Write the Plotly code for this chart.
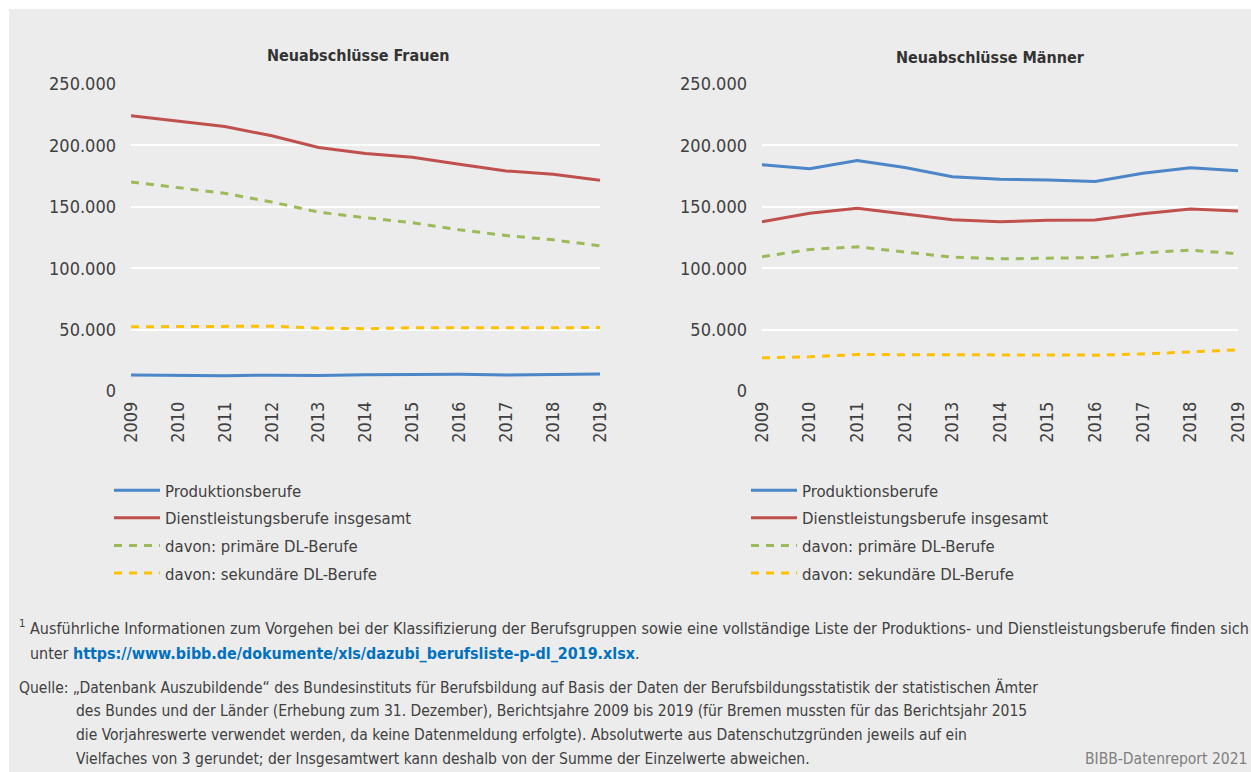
import plotly.graph_objects as go

W, H = 1251, 772
FONT = "DejaVu Sans Condensed, Liberation Sans Narrow, sans-serif"
TXT = "#404040"

# Daten
years = [2009, 2010, 2011, 2012, 2013, 2014, 2015, 2016, 2017, 2018, 2019]
series_names = ["Produktionsberufe", "Dienstleistungsberufe insgesamt",
                "davon: primäre DL-Berufe", "davon: sekundäre DL-Berufe"]

frauen_produktion = [13100, 12500, 12500, 12900, 12600, 13200, 13300, 13600, 13000, 13500, 13800]
frauen_dl_gesamt = [224100, 220000, 215400, 207800, 198300, 193400, 190400, 184600, 179200, 176500, 171600]
frauen_dl_primaer = [170200, 165600, 161000, 153900, 145700, 141100, 137000, 131300, 126600, 123100, 118200]
frauen_dl_sekundaer = [52300, 52600, 52800, 52800, 51200, 50700, 51500, 51500, 50900, 51500, 51700]

maenner_produktion = [184200, 180900, 187700, 182000, 174400, 172500, 171900, 170600, 177400, 181700, 179300]
maenner_dl_gesamt = [137900, 144700, 148800, 144100, 139500, 137900, 139000, 139200, 144400, 148200, 146600]
maenner_dl_primaer = [109300, 115300, 117400, 113100, 109000, 107600, 108400, 108700, 112500, 114700, 111700]
maenner_dl_sekundaer = [27000, 27800, 29700, 29700, 29200, 29200, 29200, 29200, 30200, 31900, 33500]

colors = ["#4a86c8", "#c0504d", "#9bbb59", "#ffc000"]
dashes = ["solid", "solid", "8px,7px", "8px,7px"]


# Pixel -> paper-Koordinaten (Ränder sind 0)
def px(x):
    return x / W


def py(y):
    return 1 - y / H


fig = go.Figure()

# linkes Diagramm: Frauen
for i, (name, vals) in enumerate(zip(series_names,
                                     [frauen_produktion, frauen_dl_gesamt, frauen_dl_primaer, frauen_dl_sekundaer])):
    fig.add_trace(go.Scatter(x=years, y=vals, name=name, mode="lines",
                             line=dict(color=colors[i], width=3, dash=dashes[i]),
                             legendgroup=f"f{i}", xaxis="x", yaxis="y", legend="legend"))

# rechtes Diagramm: Männer
for i, (name, vals) in enumerate(zip(series_names,
                                     [maenner_produktion, maenner_dl_gesamt, maenner_dl_primaer, maenner_dl_sekundaer])):
    fig.add_trace(go.Scatter(x=years, y=vals, name=name, mode="lines",
                             line=dict(color=colors[i], width=3, dash=dashes[i]),
                             legendgroup=f"m{i}", xaxis="x2", yaxis="y2", legend="legend2"))

xaxis_style = dict(range=[2009, 2019], tickvals=years, tickangle=-90, showgrid=False,
                   zeroline=False, showline=False, ticks="", ticklabelstandoff=6, automargin=False,
                   tickfont=dict(family=FONT, size=18, color=TXT))
yaxis_style = dict(range=[0, 250000], dtick=50000, tickformat=",d", showgrid=True,
                   gridcolor="white", gridwidth=1.5, zeroline=False, showline=False,
                   ticks="", ticklabelstandoff=14, automargin=False,
                   tickfont=dict(family=FONT, size=18, color=TXT))

legend_style = dict(bgcolor="rgba(0,0,0,0)", xanchor="left", yanchor="top",
                    font=dict(family=FONT, size=16.6, color=TXT), itemwidth=46,
                    tracegroupgap=3)

fig.update_layout(
    width=W, height=H,
    margin=dict(l=0, r=0, t=0, b=0),
    paper_bgcolor="white",
    plot_bgcolor="#d9d9d9",
    separators=",.",
    font=dict(family=FONT, color=TXT),
    xaxis=dict(domain=[px(131), px(600)], anchor="y", **xaxis_style),
    yaxis=dict(domain=[py(391), py(84)], anchor="x", **yaxis_style),
    xaxis2=dict(domain=[px(762), px(1238)], anchor="y2", **xaxis_style),
    yaxis2=dict(domain=[py(391), py(84)], anchor="x2", **yaxis_style),
    legend=dict(x=px(109), y=py(473), **legend_style),
    legend2=dict(x=px(746), y=py(473), **legend_style),
    showlegend=True,
)

# grauer Hintergrund
fig.add_shape(type="rect", xref="paper", yref="paper", x0=px(9), x1=1, y0=0, y1=py(9),
              fillcolor="#ececec", line=dict(width=0), layer="below")

# Titel
fig.add_annotation(text="<b>Neuabschlüsse Frauen</b>", x=px(358), y=py(55), xref="paper", yref="paper",
                   xanchor="center", yanchor="middle",
                   showarrow=False, font=dict(family=FONT, size=16, color="#333333"))
fig.add_annotation(text="<b>Neuabschlüsse Männer</b>", x=px(990), y=py(57), xref="paper", yref="paper",
                   xanchor="center", yanchor="middle",
                   showarrow=False, font=dict(family=FONT, size=16, color="#333333"))

# Fußnoten
note_font = dict(family=FONT, size=15.5, color=TXT)
fig.add_annotation(text="<sup>1</sup> Ausführliche Informationen zum Vorgehen bei der Klassifizierung der Berufsgruppen "
                        "sowie eine vollständige Liste der Produktions- und Dienstleistungsberufe finden sich",
                   x=px(17), y=py(627), xref="paper", yref="paper", xanchor="left", yanchor="middle",
                   showarrow=False, font=dict(family=FONT, size=16, color=TXT))
fig.add_annotation(text="unter <b><span style='color:#0070c0'>https://www.bibb.de/dokumente/xls/dazubi_berufsliste-p-dl_2019.xlsx</span></b>.",
                   x=px(28), y=py(653), xref="paper", yref="paper", xanchor="left", yanchor="middle",
                   showarrow=False, font=dict(family=FONT, size=15.9, color=TXT))
fig.add_annotation(text="Quelle: „Datenbank Auszubildende“ des Bundesinstituts für Berufsbildung auf Basis der Daten der "
                        "Berufsbildungsstatistik der statistischen Ämter",
                   x=px(17), y=py(687), xref="paper", yref="paper", xanchor="left", yanchor="middle",
                   showarrow=False, font=note_font)
quelle_lines = [
    "des Bundes und der Länder (Erhebung zum 31. Dezember), Berichtsjahre 2009 bis 2019 (für Bremen mussten für das Berichtsjahr 2015",
    "die Vorjahreswerte verwendet werden, da keine Datenmeldung erfolgte). Absolutwerte aus Datenschutzgründen jeweils auf ein",
    "Vielfaches von 3 gerundet; der Insgesamtwert kann deshalb von der Summe der Einzelwerte abweichen.",
]
for i, line in enumerate(quelle_lines):
    fig.add_annotation(text=line, x=px(74), y=py(711 + 24 * i), xref="paper", yref="paper",
                       xanchor="left", yanchor="middle", showarrow=False, font=note_font)
fig.add_annotation(text="BIBB-Datenreport 2021", x=px(1083), y=py(759), xref="paper", yref="paper",
                   xanchor="left", yanchor="middle", showarrow=False,
                   font=dict(family=FONT, size=15.5, color="#7f7f7f"))

# Standardrand des <body> entfernen, damit die Figur das Fenster genau füllt
fig.write_html("out.html", config={"displayModeBar": False},
               post_script="document.body.style.margin='0';")
